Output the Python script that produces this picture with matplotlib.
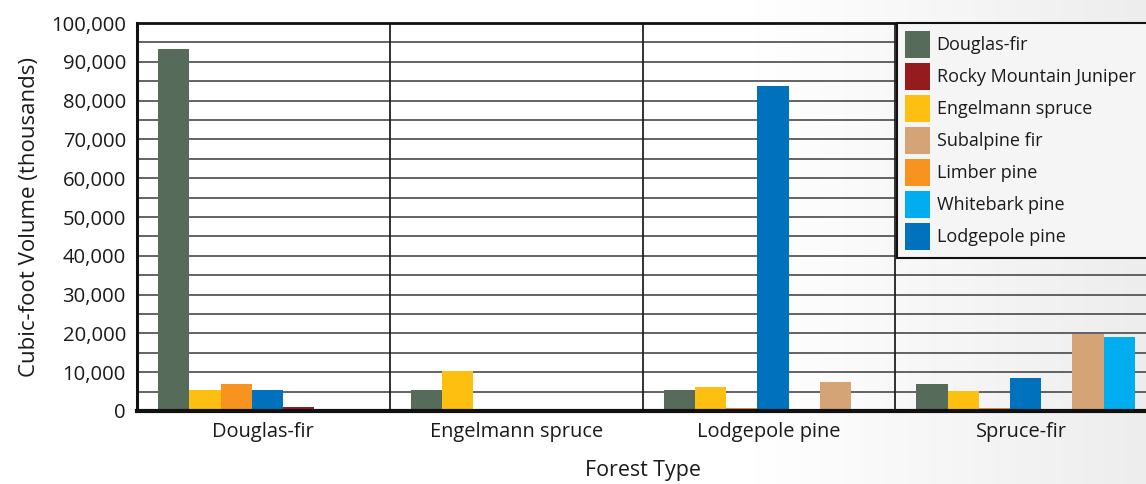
import numpy as np
import matplotlib
matplotlib.use("Agg")
import matplotlib.pyplot as plt
from matplotlib.patches import Patch, Rectangle

plt.rcParams['font.family'] = ['Open Sans', 'DejaVu Sans']

forest_types = ["Douglas-fir", "Engelmann spruce", "Lodgepole pine", "Spruce-fir"]

# bar order within a group (alphabetical)
species_bar_order = ["Douglas-fir", "Engelmann spruce", "Limber pine", "Lodgepole pine",
                     "Rocky Mountain Juniper", "Subalpine fir", "Whitebark pine"]
# legend order
species_legend_order = ["Douglas-fir", "Rocky Mountain Juniper", "Engelmann spruce",
                        "Subalpine fir", "Limber pine", "Whitebark pine", "Lodgepole pine"]

douglas_fir = [93300, 5400, 5400, 7000]
rocky_mountain_juniper = [1100, 0, 0, 0]
engelmann_spruce = [5400, 10300, 6200, 5200]
subalpine_fir = [500, 0, 7500, 19800]
limber_pine = [7000, 0, 800, 800]
whitebark_pine = [0, 0, 0, 19100]
lodgepole_pine = [5400, 0, 83800, 8500]

values = {
    "Douglas-fir": douglas_fir,
    "Rocky Mountain Juniper": rocky_mountain_juniper,
    "Engelmann spruce": engelmann_spruce,
    "Subalpine fir": subalpine_fir,
    "Limber pine": limber_pine,
    "Whitebark pine": whitebark_pine,
    "Lodgepole pine": lodgepole_pine,
}
colors = {
    "Douglas-fir": "#566b5a",
    "Rocky Mountain Juniper": "#961b1e",
    "Engelmann spruce": "#fdc010",
    "Subalpine fir": "#d5a476",
    "Limber pine": "#f7931e",
    "Whitebark pine": "#00aeef",
    "Lodgepole pine": "#0071bc",
}

yticks = list(range(0, 100001, 10000))
ytick_labels = ["{:,}".format(v) for v in yticks]

W, H = 1146, 484
fig = plt.figure(figsize=(W / 100, H / 100), dpi=100)

# background gradient
bg = fig.add_axes([0, 0, 1, 1], zorder=-10)
xs = np.linspace(0, 1, 400)
ys = np.linspace(0, 1, 100)
X, Y = np.meshgrid(xs, ys)
t = np.clip((X - 0.66) / 0.34, 0, 1)
val = 1.0 - 0.07 * t
img = np.dstack([val, val, val])
bg.imshow(img, aspect='auto', extent=[0, 1, 0, 1], origin='lower')
bg.axis('off')

ax = fig.add_axes([137 / W, 1 - 411 / H, (1148 - 137) / W, (411 - 23) / H])
ax.patch.set_alpha(0)

x = np.arange(len(forest_types))
w = 0.1235
shift = 0.016
for k, sp in enumerate(species_bar_order):
    ax.bar(x + (k - 3) * w + shift, values[sp], width=w, color=colors[sp], zorder=3, linewidth=0)

ax.set_xlim(-0.5, 3.5)
ax.set_ylim(0, 100000)
ax.set_yticks(yticks)
ax.set_yticklabels(ytick_labels)
ax.set_yticks(range(5000, 100000, 10000), minor=True)
ax.set_xticks(x)
ax.set_xticklabels(forest_types)
ax.tick_params(axis='both', which='both', length=0, colors='#1a1a1a')
ax.tick_params(axis='y', labelsize=14.6, pad=8)
ax.tick_params(axis='x', labelsize=14.4, pad=8)

ax.grid(axis='y', which='both', color='#3a3a3a', linewidth=1.1, zorder=1)
for b in [0.5, 1.5, 2.5]:
    ax.axvline(b, color='#222222', linewidth=1.3, zorder=2)

ax.spines['left'].set_linewidth(2.2)
ax.spines['top'].set_linewidth(2.0)
ax.spines['bottom'].set_linewidth(3.0)
ax.spines['right'].set_visible(False)
for s in ['left', 'top', 'bottom']:
    ax.spines[s].set_color('#111111')
    ax.spines[s].set_zorder(5)

ax.set_ylabel("Cubic-foot Volume (thousands)", fontsize=16, labelpad=8, color='#1a1a1a')
ax.set_xlabel("Forest Type", fontsize=15.4, labelpad=13, color='#1a1a1a')

# legend box running off the right edge of the figure
box_left, box_top, box_bottom = 897 / W, 1 - 23 / H, 1 - 258 / H
fig.patches.append(Rectangle((box_left, box_bottom), 1.05 - box_left, box_top - box_bottom,
                             transform=fig.transFigure, facecolor='#f5f5f5',
                             edgecolor='#111111', linewidth=1.5, zorder=3))

handles = [Patch(facecolor=colors[sp], edgecolor='none') for sp in species_legend_order]
leg = fig.legend(handles, species_legend_order, loc='upper left',
                 bbox_to_anchor=(box_left, box_top), fontsize=13,
                 frameon=False, handlelength=1.385, handleheight=1.924,
                 handletextpad=0.39, labelspacing=0.277, borderpad=0.42, borderaxespad=0)
leg.set_zorder(6)
for t_ in leg.get_texts():
    t_.set_color('#1a1a1a')

fig.savefig("out.png", dpi=100)
